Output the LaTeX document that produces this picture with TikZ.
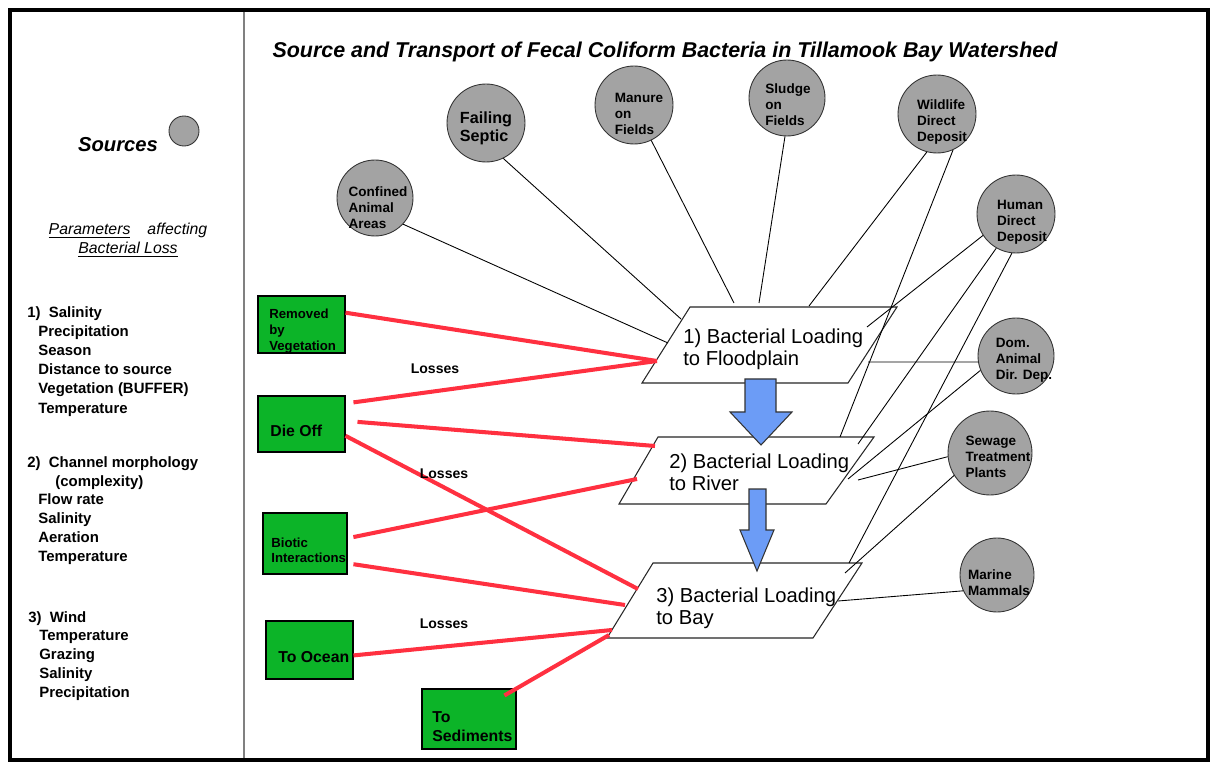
\documentclass[tikz,border=0pt]{standalone}
\usepackage{fontspec}
\setmainfont{Liberation Sans}
\usepackage{tikz}
\usetikzlibrary{positioning,calc}

\definecolor{srcgray}{RGB}{163,163,163}
\definecolor{lossgreen}{RGB}{12,180,40}
\definecolor{lossred}{RGB}{255,48,64}
\definecolor{flowblue}{RGB}{108,156,246}

\tikzset{
  src/.style={circle, draw=black!80, fill=srcgray, line width=0.5pt, inner sep=0pt},
  srctxt/.style={font=\bfseries\fontsize{7.7}{9.2}\selectfont, align=left, inner sep=0pt},
  lossbox/.style={draw=black, fill=lossgreen, line width=0.6pt, inner sep=0pt},
  losstxt/.style={font=\bfseries\fontsize{9}{10.8}\selectfont, align=left, anchor=west, inner sep=0pt},
  note/.style={font=\bfseries\fontsize{8}{10}\selectfont, inner sep=0pt},
  feed/.style={black, line width=0.5pt},
  loss/.style={lossred, line width=2.3pt},
  load/.style={draw=black!85, fill=white, line width=0.6pt},
  loadtxt/.style={font=\fontsize{11.5}{12.5}\selectfont, align=left, anchor=west, inner sep=0pt},
  param/.style={font=\bfseries\fontsize{8.5}{10}\selectfont, anchor=west, inner sep=0pt,
    text height=1.6ex, text depth=.3ex},
  flow/.style={draw=black!80, fill=flowblue, line width=0.6pt},
}

\begin{document}
\begin{tikzpicture}[x=0.02cm, y=-0.02cm]
    \useasboundingbox (0,0) rectangle (1214,763);

    % Frame and divider
    \draw[line width=2.3pt] (10,10) rectangle (1208,760);
    \draw[gray, line width=0.9pt] (244,12) -- (244,758);

    % Title
    \node[font=\bfseries\itshape\fontsize{12.2}{14}\selectfont] (title) at (665,52)
        {Source and Transport of Fecal Coliform Bacteria in Tillamook Bay Watershed};

    % Legend
    \node[font=\bfseries\itshape\fontsize{11.5}{14}\selectfont] (srclbl) at (118,145) {Sources};
    \node[src, minimum size=0.6cm] (srckey) at (184,131) {};
    \node[font=\itshape\fontsize{9}{10.8}\selectfont, align=center] (parhead) at (128,240)
        {\underline{Parameters}\hspace{0.8em} affecting\\ \underline{Bacterial Loss}};

    % Parameters for each loading step
    \node[param] (par1) at (27,311) {1)\ \ Salinity};
    \foreach \t [count=\i] in {Precipitation,Season,Distance to source,Vegetation (BUFFER),Temperature}
        \node[param] (par1-\i) at (38,311+19.2*\i) {\t};
    \node[param] (par2) at (27,461) {2)\ \ Channel morphology};
    \node[param] (par2-0) at (55,480) {(complexity)};
    \foreach \t [count=\i] in {Flow rate,Salinity,Aeration,Temperature}
        \node[param] (par2-\i) at (38,480+18.8*\i) {\t};
    \node[param] (par3) at (28,616) {3)\ \ Wind};
    \foreach \t [count=\i] in {Temperature,Grazing,Salinity,Precipitation}
        \node[param] (par3-\i) at (39,616+18.8*\i) {\t};

    % Loading steps
    \draw[load] (690,307) -- (897,307) -- (848,383) -- (642,383) -- cycle;
    \draw[load] (658,437) -- (874,437) -- (826,504) -- (619,504) -- cycle;
    \draw[load] (653,563) -- (862,563) -- (813,638) -- (607,638) -- cycle;
    \node[loadtxt] (fp) at (683,349) {1) Bacterial Loading\\to Floodplain};
    \node[loadtxt] (rv) at (669,472) {2) Bacterial Loading\\to River};
    \node[loadtxt] (by) at (656,608) {3) Bacterial Loading\\to Bay};

    % Where the connectors meet the steps
    \coordinate (fp-cap) at (668,343);
    \coordinate (fp-sep) at (681,319);
    \coordinate (fp-man) at (734,303);
    \coordinate (fp-slu) at (759,303);
    \coordinate (fp-wdd) at (809,306);
    \coordinate (fp-hdd) at (867,327);
    \coordinate (fp-dom) at (868,362);
    \coordinate (rv-wdd) at (840,437);
    \coordinate (rv-hdd) at (858,444);
    \coordinate (rv-dom) at (848,479);
    \coordinate (rv-stp) at (858,480);
    \coordinate (by-hdd) at (849,563);
    \coordinate (by-stp) at (845,573);
    \coordinate (by-mm) at (838,601);
    \coordinate (fp-w) at (657,361);
    \coordinate (rv-w1) at (655,446);
    \coordinate (rv-w2) at (637,479);
    \coordinate (by-w1) at (638,589);
    \coordinate (by-w2) at (625,605);
    \coordinate (by-w3) at (612,630);
    \coordinate (by-w4) at (609,635);

    % Sources
    \node[src, minimum size=1.52cm] (cap) at (375,198) {};
    \node[srctxt] (cap-t) at (378,208) {Confined\\Animal\\Areas};
    \node[src, minimum size=1.56cm] (sep) at (486,123) {};
    \node[srctxt, font=\bfseries\fontsize{9.2}{10.2}\selectfont] (sep-t) at (486,128) {Failing\\Septic};
    \node[src, minimum size=1.56cm] (man) at (634,105) {};
    \node[srctxt] (man-t) at (639,114) {Manure\\on\\Fields};
    \node[src, minimum size=1.52cm] (slu) at (787,98) {};
    \node[srctxt] (slu-t) at (788,105) {Sludge\\on\\Fields};
    \node[src, minimum size=1.56cm] (wdd) at (937,114) {};
    \node[srctxt] (wdd-t) at (942,122) {Wildlife\\Direct\\Deposit};
    \node[src, minimum size=1.56cm] (hdd) at (1016,214) {};
    \node[srctxt] (hdd-t) at (1022,222) {Human\\Direct\\Deposit};
    \node[src, minimum size=1.52cm] (dom) at (1016,356) {};
    \node[srctxt] (dom-t) at (1024,360) {Dom.\\Animal\\Dir. Dep.};
    \node[src, minimum size=1.68cm] (stp) at (990,453) {};
    \node[srctxt] (stp-t) at (998,457) {Sewage\\Treatment\\Plants};
    \node[src, minimum size=1.48cm] (mm) at (997,575) {};
    \node[srctxt] (mm-t) at (999,583) {Marine\\Mammals};

    % Source inputs
    \foreach \s/\t in {cap.-43/fp-cap, sep.-64/fp-sep, man.-64/fp-man, slu.-93/fp-slu,
                       wdd.-105/fp-wdd, wdd.-66/rv-wdd,
                       hdd.-147/fp-hdd, hdd.-120/rv-hdd, hdd.-96/by-hdd,
                       dom.-171/fp-dom, dom.-158/rv-dom,
                       stp.-175/rv-stp, stp.-148/by-stp, mm.-155/by-mm}
        \draw[feed] (\s) -- (\t);

    % Losses
    \node[lossbox, minimum width=1.74cm, minimum height=1.14cm] (veg) at (301.5,324.5) {};
    \node[losstxt, font=\bfseries\fontsize{7.5}{9}\selectfont] (veg-t) at (269,331) {Removed\\by\\Vegetation};
    \node[lossbox, minimum width=1.74cm, minimum height=1.12cm] (die) at (301.5,424) {};
    \node[losstxt] (die-t) at (270,431) {Die Off};
    \node[lossbox, minimum width=1.68cm, minimum height=1.22cm] (bio) at (305,543.5) {};
    \node[losstxt, font=\bfseries\fontsize{7.5}{8.3}\selectfont] (bio-t) at (271,550) {Biotic\\Interactions};
    \node[lossbox, minimum width=1.74cm, minimum height=1.16cm] (oc) at (309.5,650) {};
    \node[losstxt] (oc-t) at (278,657) {To Ocean};
    \node[lossbox, minimum width=1.88cm, minimum height=1.2cm] (sed) at (469,719) {};
    \node[losstxt] (sed-t) at (432,727) {To\\Sediments};

    \foreach \s/\t/\g in {veg.15/fp-w/0, die.25/fp-w/0.16, die.4/rv-w1/0.24, die.-15/by-w1/0,
                          bio.7/rv-w2/0.12, bio.-25/by-w2/0.12, oc.-7/by-w3/0,
                          sed.north east/by-w4/-0.28}
        \draw[loss, shorten <=\g cm] (\s) -- (\t);

    \node[note] (loss1) at (435,369) {Losses};
    \node[note] (loss2) at (444,474) {Losses};
    \node[note] (loss3) at (444,624) {Losses};

    % Flow between steps
    \draw[flow] (745,379) -- (776,379) -- (776,412) -- (792,412) -- (761,445)
        -- (730,412) -- (745,412) -- cycle;
    \draw[flow] (749,489) -- (766,489) -- (766,530) -- (774,530) -- (757,571)
        -- (740,530) -- (749,530) -- cycle;
\end{tikzpicture}
\end{document}
